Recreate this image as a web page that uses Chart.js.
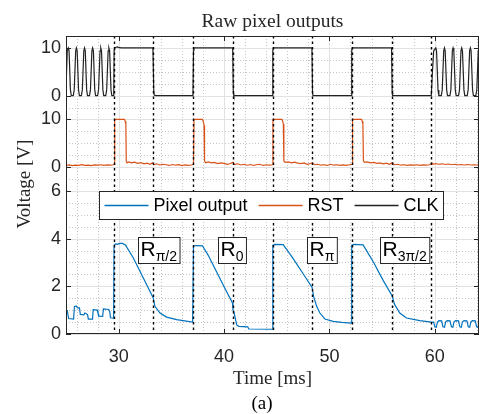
<!DOCTYPE html>
<html>
<head>
<meta charset="utf-8">
<script src="https://cdn.jsdelivr.net/npm/chart.js@4.4.1/dist/chart.umd.min.js"></script>
<style>
  html, body { margin: 0; padding: 0; background: #fff; }
  #wrap { width: 480px; height: 414px; position: relative; }
</style>
</head>
<body>
<div id="wrap"><canvas id="chart"></canvas></div>
<script>
// ---- data (time in ms, voltages in V) ----
const seriesNames = ['Pixel output', 'RST', 'CLK'];
const timeTicks = [30, 40, 50, 60];
const yTickValues = [0, 2, 4, 6, 7, 9, 10, 12];
const yTickLabels = ['0', '2', '4', '6', '0', '10', '0', '10'];

// the two digital traces are drawn shrunk and lifted above the analog one
const rstOffset = 7;
const clkOffset = 10;
const digitalScale = 0.2;

// clock edges (dotted markers)
const markerTimes = [29.55, 33.28, 37.07, 40.84, 44.61, 48.36, 52.10, 55.92, 59.69];

// readout annotations
const labelTimes = [31.86, 39.45, 47.83, 54.78];
const labelSubs = ['\u03c0/2', '0', '\u03c0', '3\u03c0/2'];

const pixelPoints = [
  [25.0, 0.98], [25.12, 0.98], [25.25, 0.65], [25.72, 0.63], [25.8, 1.15], [25.95, 1.18], [26.1, 1.1],
  [26.28, 1.1], [26.36, 0.82], [26.7, 0.8], [26.78, 0.88], [26.9, 0.86], [27.05, 0.8], [27.12, 0.62],
  [27.52, 0.62], [27.58, 1.02], [27.97, 1.0], [28.03, 0.88], [28.15, 0.75], [28.48, 0.74], [28.55, 1.05],
  [29.05, 1.03], [29.15, 0.95], [29.22, 0.68], [29.52, 0.67],
  [29.56, 3.72], [29.7, 3.78], [29.9, 3.76], [30.1, 3.8], [30.35, 3.8], [30.6, 3.74], [30.69, 3.7],
  [31.39, 3.19], [32.34, 2.35], [33.28, 1.51], [33.44, 1.16], [33.92, 0.88], [34.55, 0.71], [35.5, 0.6],
  [37.02, 0.5],
  [37.1, 3.68], [37.3, 3.71], [37.95, 3.7], [38.5, 3.3], [39.3, 2.6], [40.1, 1.9], [40.8, 1.3],
  [40.85, 1.0], [40.95, 0.9], [41.05, 0.7], [41.2, 0.38], [41.4, 0.32], [42.25, 0.3], [42.35, 0.21],
  [44.58, 0.2],
  [44.63, 3.72], [44.8, 3.76], [45.61, 3.75], [46.5, 3.2], [47.4, 2.6], [48.36, 1.95], [48.5, 1.58],
  [48.8, 1.15], [49.1, 0.88], [49.57, 0.63], [50.36, 0.53], [51.2, 0.49], [52.08, 0.46],
  [52.12, 3.72], [52.3, 3.76], [53.2, 3.74], [54.2, 3.0], [55.1, 2.25], [55.92, 1.63], [56.2, 1.23],
  [56.68, 0.88], [57.31, 0.67], [58.58, 0.56], [59.69, 0.5],
  [59.9, 0.5], [60.0, 0.3], [60.15, 0.28], [60.25, 0.5], [60.4, 0.56], [60.65, 0.55], [60.78, 0.3],
  [60.93, 0.28], [61.03, 0.5], [61.18, 0.56], [61.45, 0.55], [61.58, 0.3], [61.72, 0.28], [61.82, 0.5],
  [61.97, 0.56], [62.25, 0.55], [62.38, 0.3], [62.52, 0.28], [62.62, 0.5], [62.77, 0.56], [63.05, 0.55],
  [63.18, 0.3], [63.32, 0.28], [63.42, 0.5], [63.57, 0.56], [63.85, 0.55], [63.97, 0.3], [64.1, 0.28],
  [64.2, 0.45]
];

const rstPoints = [
  [25.0, 0.35], [25.3, 0.45], [25.6, 0.3], [25.9, 0.4], [26.2, 0.35], [26.5, 0.5], [26.8, 0.35],
  [27.1, 0.4], [27.4, 0.3], [27.7, 0.45], [28.0, 0.4], [28.3, 0.5], [28.6, 0.35], [28.9, 0.45],
  [29.2, 0.4], [29.5, 0.5], [29.58, 0.6],
  [29.62, 10], [30.55, 10], [30.62, 9.6], [30.68, 9], [30.72, 1.2],
  [30.8, 0.9], [30.95, 1.1], [31.2, 0.9], [31.5, 1.05], [31.8, 0.8], [32.1, 0.95], [32.4, 0.7],
  [32.7, 0.85], [33.0, 0.6], [33.2, 0.9], [33.35, 0.5], [33.6, 0.7], [33.9, 0.45], [34.2, 0.6],
  [34.5, 0.5], [34.8, 0.35], [35.1, 0.55], [35.4, 0.4], [35.7, 0.5], [36.0, 0.3], [36.3, 0.45],
  [36.6, 0.35], [36.9, 0.45], [37.1, 0.6],
  [37.15, 10], [37.95, 10], [38.03, 9.6], [38.1, 8.8], [38.15, 1.3],
  [38.25, 0.9], [38.5, 1.1], [38.8, 0.9], [39.1, 1.0], [39.4, 0.75], [39.7, 0.9], [40.0, 0.8],
  [40.3, 0.6], [40.6, 0.75], [40.85, 1.0], [41.0, 0.55], [41.3, 0.7], [41.6, 0.45], [41.9, 0.6],
  [42.2, 0.4], [42.5, 0.55], [42.8, 0.35], [43.1, 0.5], [43.4, 0.6], [43.7, 0.35], [44.0, 0.5],
  [44.3, 0.4], [44.6, 0.5],
  [44.64, 10], [45.5, 10], [45.57, 9.6], [45.63, 9], [45.68, 1.3],
  [45.8, 1.0], [46.1, 1.1], [46.4, 0.9], [46.7, 1.05], [47.0, 0.85], [47.3, 0.75], [47.6, 0.9],
  [47.9, 0.6], [48.2, 0.75], [48.4, 0.9], [48.6, 0.5], [48.9, 0.6], [49.2, 0.4], [49.5, 0.5],
  [49.8, 0.35], [50.1, 0.6], [50.4, 0.4], [50.7, 0.5], [51.0, 0.35], [51.3, 0.45], [51.6, 0.35],
  [51.9, 0.5], [52.15, 0.6],
  [52.2, 10], [53.05, 10], [53.12, 9.6], [53.18, 9], [53.23, 1.3],
  [53.35, 1.0], [53.6, 1.1], [53.9, 0.9], [54.2, 1.0], [54.5, 0.8], [54.8, 0.9], [55.1, 0.7],
  [55.4, 0.85], [55.7, 0.6], [55.95, 0.9], [56.2, 0.5], [56.5, 0.6], [56.8, 0.4], [57.1, 0.5],
  [57.4, 0.35], [57.7, 0.45], [58.0, 0.4], [58.3, 0.5], [58.6, 0.35], [58.9, 0.45], [59.2, 0.4],
  [59.5, 0.5], [59.72, 0.9], [59.85, 0.6], [60.1, 0.75], [60.4, 0.6], [60.7, 0.7], [61.0, 0.55],
  [61.3, 0.65], [61.6, 0.5], [61.9, 0.6], [62.2, 0.5], [62.5, 0.55], [62.8, 0.45], [63.1, 0.55],
  [63.4, 0.45], [63.7, 0.5], [64.0, 0.45], [64.2, 0.5]
];

const clkPoints = [
  [25.0, 1.5], [25.12, 9.4],
  [25.22, 10], [25.29, 9.4], [25.42, 1.2], [25.5, 0], [25.69, 0], [25.78, 1.2], [25.92, 9.4],
  [25.99, 10], [26.06, 9.4], [26.19, 1.2], [26.27, 0], [26.46, 0], [26.55, 1.2], [26.69, 9.4],
  [26.76, 10], [26.83, 9.4], [26.96, 1.2], [27.04, 0], [27.23, 0], [27.32, 1.2], [27.46, 9.4],
  [27.53, 10], [27.6, 9.4], [27.73, 1.2], [27.81, 0], [28.0, 0], [28.09, 1.2], [28.23, 9.4],
  [28.3, 10], [28.37, 9.4], [28.5, 1.2], [28.58, 0], [28.77, 0], [28.86, 1.2], [29.0, 9.4],
  [29.07, 10], [29.14, 9.4], [29.27, 1.2], [29.35, 0], [29.53, 0],
  [29.57, 9.6], [29.62, 10], [29.75, 10.15], [29.9, 10.2], [30.05, 10.05], [30.3, 10],
  [33.25, 10], [33.33, 1], [33.38, 0.1], [33.5, 0],
  [37.05, 0], [37.1, 9.5], [37.14, 10], [40.82, 10], [40.88, 0.5], [40.93, 0],
  [44.59, 0], [44.63, 9.5], [44.67, 10], [48.34, 10], [48.4, 0.5], [48.45, 0],
  [52.08, 0], [52.12, 9.5], [52.16, 10], [55.9, 10], [55.96, 0.5], [56.0, 0],
  [59.67, 0], [59.78, 5], [59.9, 9.4],
  [60.1, 10], [60.17, 9.4], [60.31, 1.2], [60.39, 0], [60.62, 0], [60.71, 1.2], [60.85, 9.4],
  [60.92, 10], [60.99, 9.4], [61.13, 1.2], [61.21, 0], [61.44, 0], [61.53, 1.2], [61.67, 9.4],
  [61.74, 10], [61.81, 9.4], [61.95, 1.2], [62.03, 0], [62.26, 0], [62.35, 1.2], [62.49, 9.4],
  [62.56, 10], [62.63, 9.4], [62.77, 1.2], [62.85, 0], [63.08, 0], [63.17, 1.2], [63.31, 9.4],
  [63.38, 10], [63.45, 9.4], [63.59, 1.2], [63.67, 0], [63.9, 0], [63.99, 1.2], [64.13, 9.4],
  [64.2, 10]
];

const colors = ['#0072BD', '#D95319', '#222222'];
const axisColor = '#262626';
const sans = '"Liberation Sans", Arial, Helvetica, sans-serif';
const serif = '"Liberation Serif", "Times New Roman", serif';

function toXY(points, offset, scale) {
  return points.map(p => ({ x: p[0], y: offset + p[1] * scale }));
}

function strokeLine(ctx, x1, y1, x2, y2) {
  ctx.beginPath();
  ctx.moveTo(x1, y1);
  ctx.lineTo(x2, y2);
  ctx.stroke();
}

const decorations = {
  id: 'decorations',
  beforeDatasetsDraw(chart) {
    const { ctx, chartArea: a, scales: { x, y } } = chart;
    ctx.save();
    ctx.lineWidth = 1;

    // minor grid (dotted)
    ctx.strokeStyle = '#c4c4c4';
    ctx.setLineDash([1, 2]);
    for (let t = 26; t < x.max; t += 2) {
      if (timeTicks.includes(t)) continue;
      const px = Math.round(x.getPixelForValue(t)) + 0.5;
      strokeLine(ctx, px, a.top, px, a.bottom);
    }
    for (let v = 0.5; v < y.max; v += 0.5) {
      if (yTickValues.includes(v)) continue;
      const py = Math.round(y.getPixelForValue(v)) + 0.5;
      strokeLine(ctx, a.left, py, a.right, py);
    }

    // major grid
    ctx.setLineDash([]);
    ctx.strokeStyle = '#e2e2e2';
    timeTicks.forEach(t => {
      const px = Math.round(x.getPixelForValue(t)) + 0.5;
      strokeLine(ctx, px, a.top, px, a.bottom);
    });
    yTickValues.forEach(v => {
      const py = Math.round(y.getPixelForValue(v)) + 0.5;
      strokeLine(ctx, a.left, py, a.right, py);
    });
    ctx.restore();
  },
  afterDatasetsDraw(chart) {
    const { ctx, chartArea: a, scales: { x, y } } = chart;
    ctx.save();

    // clock edge markers
    ctx.strokeStyle = '#000';
    ctx.lineWidth = 1.4;
    ctx.setLineDash([2.5, 3]);
    markerTimes.forEach(t => {
      const px = Math.round(x.getPixelForValue(t)) + 0.5;
      strokeLine(ctx, px, a.top, px, a.bottom);
    });
    ctx.setLineDash([]);

    // readout labels
    labelTimes.forEach((t, i) => {
      const left = Math.round(x.getPixelForValue(t)) + 0.5;
      const top = Math.round(y.getPixelForValue(4.05)) + 0.5;
      ctx.font = '21px ' + sans;
      const wR = ctx.measureText('R').width;
      ctx.font = '14px ' + sans;
      const wS = ctx.measureText(labelSubs[i]).width;
      const w = wR + wS + 5;
      ctx.fillStyle = '#fff';
      ctx.fillRect(left, top, w, 26);
      ctx.strokeStyle = axisColor;
      ctx.lineWidth = 1;
      ctx.strokeRect(left, top, w, 26);
      ctx.fillStyle = '#000';
      ctx.textAlign = 'left';
      ctx.textBaseline = 'alphabetic';
      ctx.font = '21px ' + sans;
      ctx.fillText('R', left + 2, top + 18);
      ctx.font = '14px ' + sans;
      ctx.fillText(labelSubs[i], left + 2 + wR, top + 23);
    });

    // legend
    const lx = a.left + 33.5, ly = a.top + 155.5;
    const lw = 344, lh = 28;
    ctx.fillStyle = '#fff';
    ctx.fillRect(lx, ly, lw, lh);
    ctx.strokeStyle = axisColor;
    ctx.lineWidth = 1;
    ctx.strokeRect(lx, ly, lw, lh);
    ctx.font = '18px ' + sans;
    ctx.textBaseline = 'middle';
    let cx = lx + 5;
    const cy = ly + lh / 2;
    seriesNames.forEach((name, i) => {
      ctx.strokeStyle = colors[i];
      ctx.lineWidth = 1.3;
      strokeLine(ctx, cx, cy, cx + 44, cy);
      ctx.fillStyle = '#000';
      ctx.fillText(name, cx + 49, cy + 1);
      cx += 49 + ctx.measureText(name).width + 11;
    });

    // axes box and inward ticks
    ctx.strokeStyle = axisColor;
    ctx.lineWidth = 1;
    ctx.strokeRect(a.left + 0.5, a.top + 0.5, a.right - a.left - 1, a.bottom - a.top - 1);
    timeTicks.forEach(t => {
      const px = Math.round(x.getPixelForValue(t)) + 0.5;
      strokeLine(ctx, px, a.bottom, px, a.bottom - 5);
      strokeLine(ctx, px, a.top, px, a.top + 5);
    });
    yTickValues.forEach(v => {
      const py = Math.round(y.getPixelForValue(v)) + 0.5;
      strokeLine(ctx, a.left, py, a.left + 5, py);
      strokeLine(ctx, a.right, py, a.right - 5, py);
    });

    // texts
    const mid = (a.left + a.right) / 2;
    ctx.fillStyle = axisColor;
    ctx.textAlign = 'center';
    ctx.textBaseline = 'alphabetic';
    ctx.font = '19.5px ' + serif;
    ctx.fillText('Raw pixel outputs', mid, 27);
    ctx.font = '19px ' + serif;
    ctx.fillText('Time [ms]', mid, 384);
    ctx.fillStyle = '#000';
    ctx.fillText('(a)', 262, 409);
    ctx.fillStyle = axisColor;
    ctx.save();
    ctx.translate(30, 184);
    ctx.rotate(-Math.PI / 2);
    ctx.fillText('Voltage [V]', 0, 0);
    ctx.restore();

    ctx.restore();
  }
};

new Chart(document.getElementById('chart'), {
  type: 'line',
  data: {
    datasets: [
      { label: seriesNames[0], data: toXY(pixelPoints, 0, 1), borderColor: colors[0] },
      { label: seriesNames[1], data: toXY(rstPoints, rstOffset, digitalScale), borderColor: colors[1] },
      { label: seriesNames[2], data: toXY(clkPoints, clkOffset, digitalScale), borderColor: colors[2] }
    ]
  },
  options: {
    responsive: true,
    maintainAspectRatio: false,
    animation: false,
    layout: { padding: { top: 36, right: 1, bottom: 0, left: 0 } },
    elements: {
      line: { borderWidth: 1.2, tension: 0 },
      point: { radius: 0 }
    },
    plugins: {
      legend: { display: false },
      tooltip: { enabled: false },
      title: { display: false }
    },
    scales: {
      x: {
        type: 'linear',
        min: 25,
        max: 64.2,
        grid: { display: false, drawTicks: false },
        border: { display: false },
        afterBuildTicks: scale => { scale.ticks = timeTicks.map(v => ({ value: v })); },
        afterFit: scale => { scale.height = 80; },
        ticks: {
          color: axisColor,
          padding: 12,
          autoSkip: false,
          maxRotation: 0,
          font: { family: sans, size: 18 }
        }
      },
      y: {
        type: 'linear',
        min: 0,
        max: 12.5,
        grid: { display: false, drawTicks: false },
        border: { display: false },
        afterBuildTicks: scale => { scale.ticks = yTickValues.map(v => ({ value: v })); },
        afterFit: scale => { scale.width = 66; },
        ticks: {
          color: axisColor,
          padding: 5,
          autoSkip: false,
          font: { family: sans, size: 18 },
          callback: value => yTickLabels[yTickValues.indexOf(value)]
        }
      }
    }
  },
  plugins: [decorations]
});
</script>
</body>
</html>
